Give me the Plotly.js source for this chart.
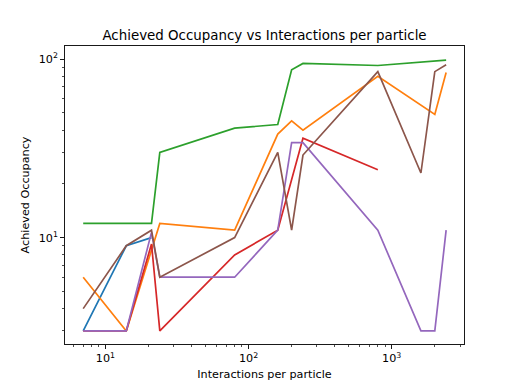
<!DOCTYPE html>
<html>
<head>
<meta charset="utf-8">
<script src="https://cdn.plot.ly/plotly-3.0.1.min.js"></script>
<style>
  html, body { margin: 0; padding: 0; background: #fff; }
  #myDiv { width: 516px; height: 387px; }
</style>
</head>
<body>
<div id="myDiv"></div>
<script>
// values (log-log)
var blueX   = [7, 14, 21];
var blueY   = [3, 9, 10];
var orangeX = [7, 14, 24, 80, 160, 200, 240, 800, 2000, 2400];
var orangeY = [6, 3, 12, 11, 38, 45, 40, 80, 49, 84];
var greenX  = [7, 21, 24, 80, 160, 200, 240, 800, 2400];
var greenY  = [12, 12, 30, 41, 43, 87, 94.5, 92, 98.5];
var redX    = [7, 14, 21, 24, 80, 160, 240, 800];
var redY    = [3, 3, 9.2, 3, 8, 11, 36, 24];
var purpleX = [7, 14, 21, 24, 80, 160, 200, 240, 800, 1600, 2000, 2400];
var purpleY = [3, 3, 10.7, 6, 6, 11, 34, 34, 11, 3, 3, 11];
var brownX  = [7, 14, 21, 24, 80, 160, 200, 240, 800, 1600, 2000, 2400];
var brownY  = [4, 9, 11, 6, 10, 30, 11, 29, 85, 23, 85, 93];

var colors = ['#1f77b4', '#ff7f0e', '#2ca02c', '#d62728', '#9467bd', '#8c564b'];
var xs = [blueX, orangeX, greenX, redX, purpleX, brownX];
var ys = [blueY, orangeY, greenY, redY, purpleY, brownY];

var data = [];
for (var i = 0; i < xs.length; i++) {
  data.push({
    x: xs[i],
    y: ys[i],
    mode: 'lines',
    type: 'scatter',
    name: 'run ' + (i + 1),
    line: {color: colors[i], width: 1.7},
    hoverinfo: 'skip'
  });
}

var xMinor = [6, 7, 8, 9, 20, 30, 40, 50, 60, 70, 80, 90,
              200, 300, 400, 500, 600, 700, 800, 900, 2000, 3000];
var yMinor = [3, 4, 5, 6, 7, 8, 9, 20, 30, 40, 50, 60, 70, 80, 90];

var font = {family: 'DejaVu Sans', size: 11.2, color: '#000'};

var layout = {
  width: 516,
  height: 387,
  margin: {l: 65, r: 52, t: 46, b: 43},
  paper_bgcolor: '#fff',
  plot_bgcolor: '#fff',
  showlegend: false,
  font: font,
  title: {
    text: 'Achieved Occupancy vs Interactions per particle',
    font: {family: 'DejaVu Sans', size: 13.4, color: '#000'},
    x: 0.5, xref: 'paper', xanchor: 'center',
    y: 1 - 40 / 387, yref: 'container', yanchor: 'bottom'
  },
  xaxis: {
    type: 'log',
    range: [0.718, 3.505],
    title: {text: 'Interactions per particle', font: font, standoff: 5},
    tickmode: 'array',
    tickvals: [10, 100, 1000],
    ticktext: ['10<sup>1</sup>', '10<sup>2</sup>', '10<sup>3</sup>'],
    ticks: 'outside', ticklen: 3.9, tickwidth: 0.9, tickcolor: '#000',
    minor: {tickmode: 'array', tickvals: xMinor, ticks: 'outside', ticklen: 2.2, tickwidth: 0.7, tickcolor: '#000', showgrid: false},
    showline: true, linecolor: '#000', linewidth: 0.9, mirror: true,
    showgrid: false, zeroline: false,
    automargin: false
  },
  yaxis: {
    type: 'log',
    range: [0.404, 2.073],
    title: {text: 'Achieved Occupancy', font: font, standoff: 6},
    tickmode: 'array',
    tickvals: [10, 100],
    ticktext: ['10<sup>1</sup>', '10<sup>2</sup>'],
    ticks: 'outside', ticklen: 3.9, tickwidth: 0.9, tickcolor: '#000',
    minor: {tickmode: 'array', tickvals: yMinor, ticks: 'outside', ticklen: 2.2, tickwidth: 0.7, tickcolor: '#000', showgrid: false},
    showline: true, linecolor: '#000', linewidth: 0.9, mirror: true,
    showgrid: false, zeroline: false,
    automargin: false
  }
};

Plotly.newPlot('myDiv', data, layout, {staticPlot: true});
</script>
</body>
</html>
